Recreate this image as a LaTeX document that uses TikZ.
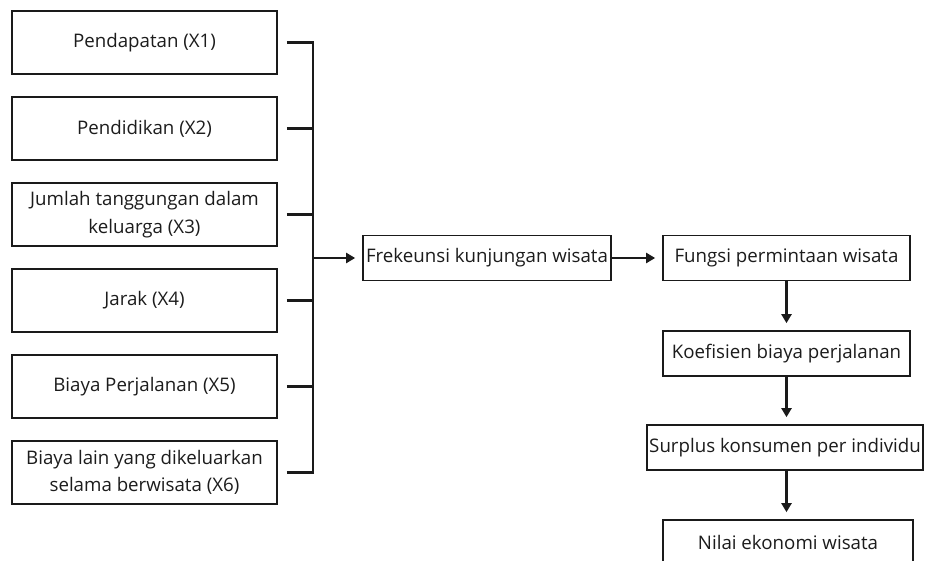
\documentclass[tikz,border=0pt]{standalone}
\usepackage{fontspec}
\setmainfont{Open Sans}
\usetikzlibrary{arrows.meta,positioning,calc}
\definecolor{ink}{HTML}{1A1A1A}
\definecolor{txt}{HTML}{1C1C1C}

\begin{document}
\begin{tikzpicture}[x=1pt, y=-1pt,
  box/.style={draw=ink, line width=1.7pt, fill=white, text=txt, align=center, inner sep=2pt,
    minimum width=#1, minimum height=45pt, font=\fontsize{18.7}{27.5}\selectfont},
  box/.default=248pt,
  link/.style={ink, line width=2.6pt},
  arr/.style={link, -{Triangle[length=9pt,width=10pt]}, shorten >=7pt}
]
  \path[use as bounding box] (0,0) rectangle (925,560);
  \clip (0,0) rectangle (925,560);
  \foreach \t [count=\i] in {Pendapatan (X1), Pendidikan (X2), {Jumlah tanggungan dalam\\keluarga (X3)},
      Jarak (X4), Biaya Perjalanan (X5), {Biaya lain yang dikeluarkan\\selama berwisata (X6)}}
    {\node[box=265pt, minimum height=63pt] (x\i) at (144.5,42.5+86*\i-86) {\t};}
  \coordinate (bar) at (313,258);
  \foreach \i in {1,...,6} {\draw[link, shorten <=9pt] (x\i.east) -- (x\i.east -| bar);}
  \draw[link, line cap=rect] (x1.east -| bar) -- (x6.east -| bar);
  \node[box] (frek) at (487,258) {Frekeunsi kunjungan wisata};
  \node[box=247pt] (fungsi) at (786.5,258) {Fungsi permintaan wisata};
  \node[box=247pt] (koef) at (786.5,353.5) {Koefisien biaya perjalanan};
  \node[box=276pt] (surplus) at (785,447.5) {Surplus konsumen per individu};
  \node[box=250pt] (nilai) at (788,542.5) {Nilai ekonomi wisata};
  \draw[arr] (bar) -- (frek);
  \draw[arr] (frek) -- (fungsi);
  \draw[arr] (fungsi) -- (koef);
  \draw[arr] (koef.south) -- (koef.south |- surplus.north);
  \draw[arr] (koef.south |- surplus.south) -- (koef.south |- nilai.north);
\end{tikzpicture}
\end{document}
